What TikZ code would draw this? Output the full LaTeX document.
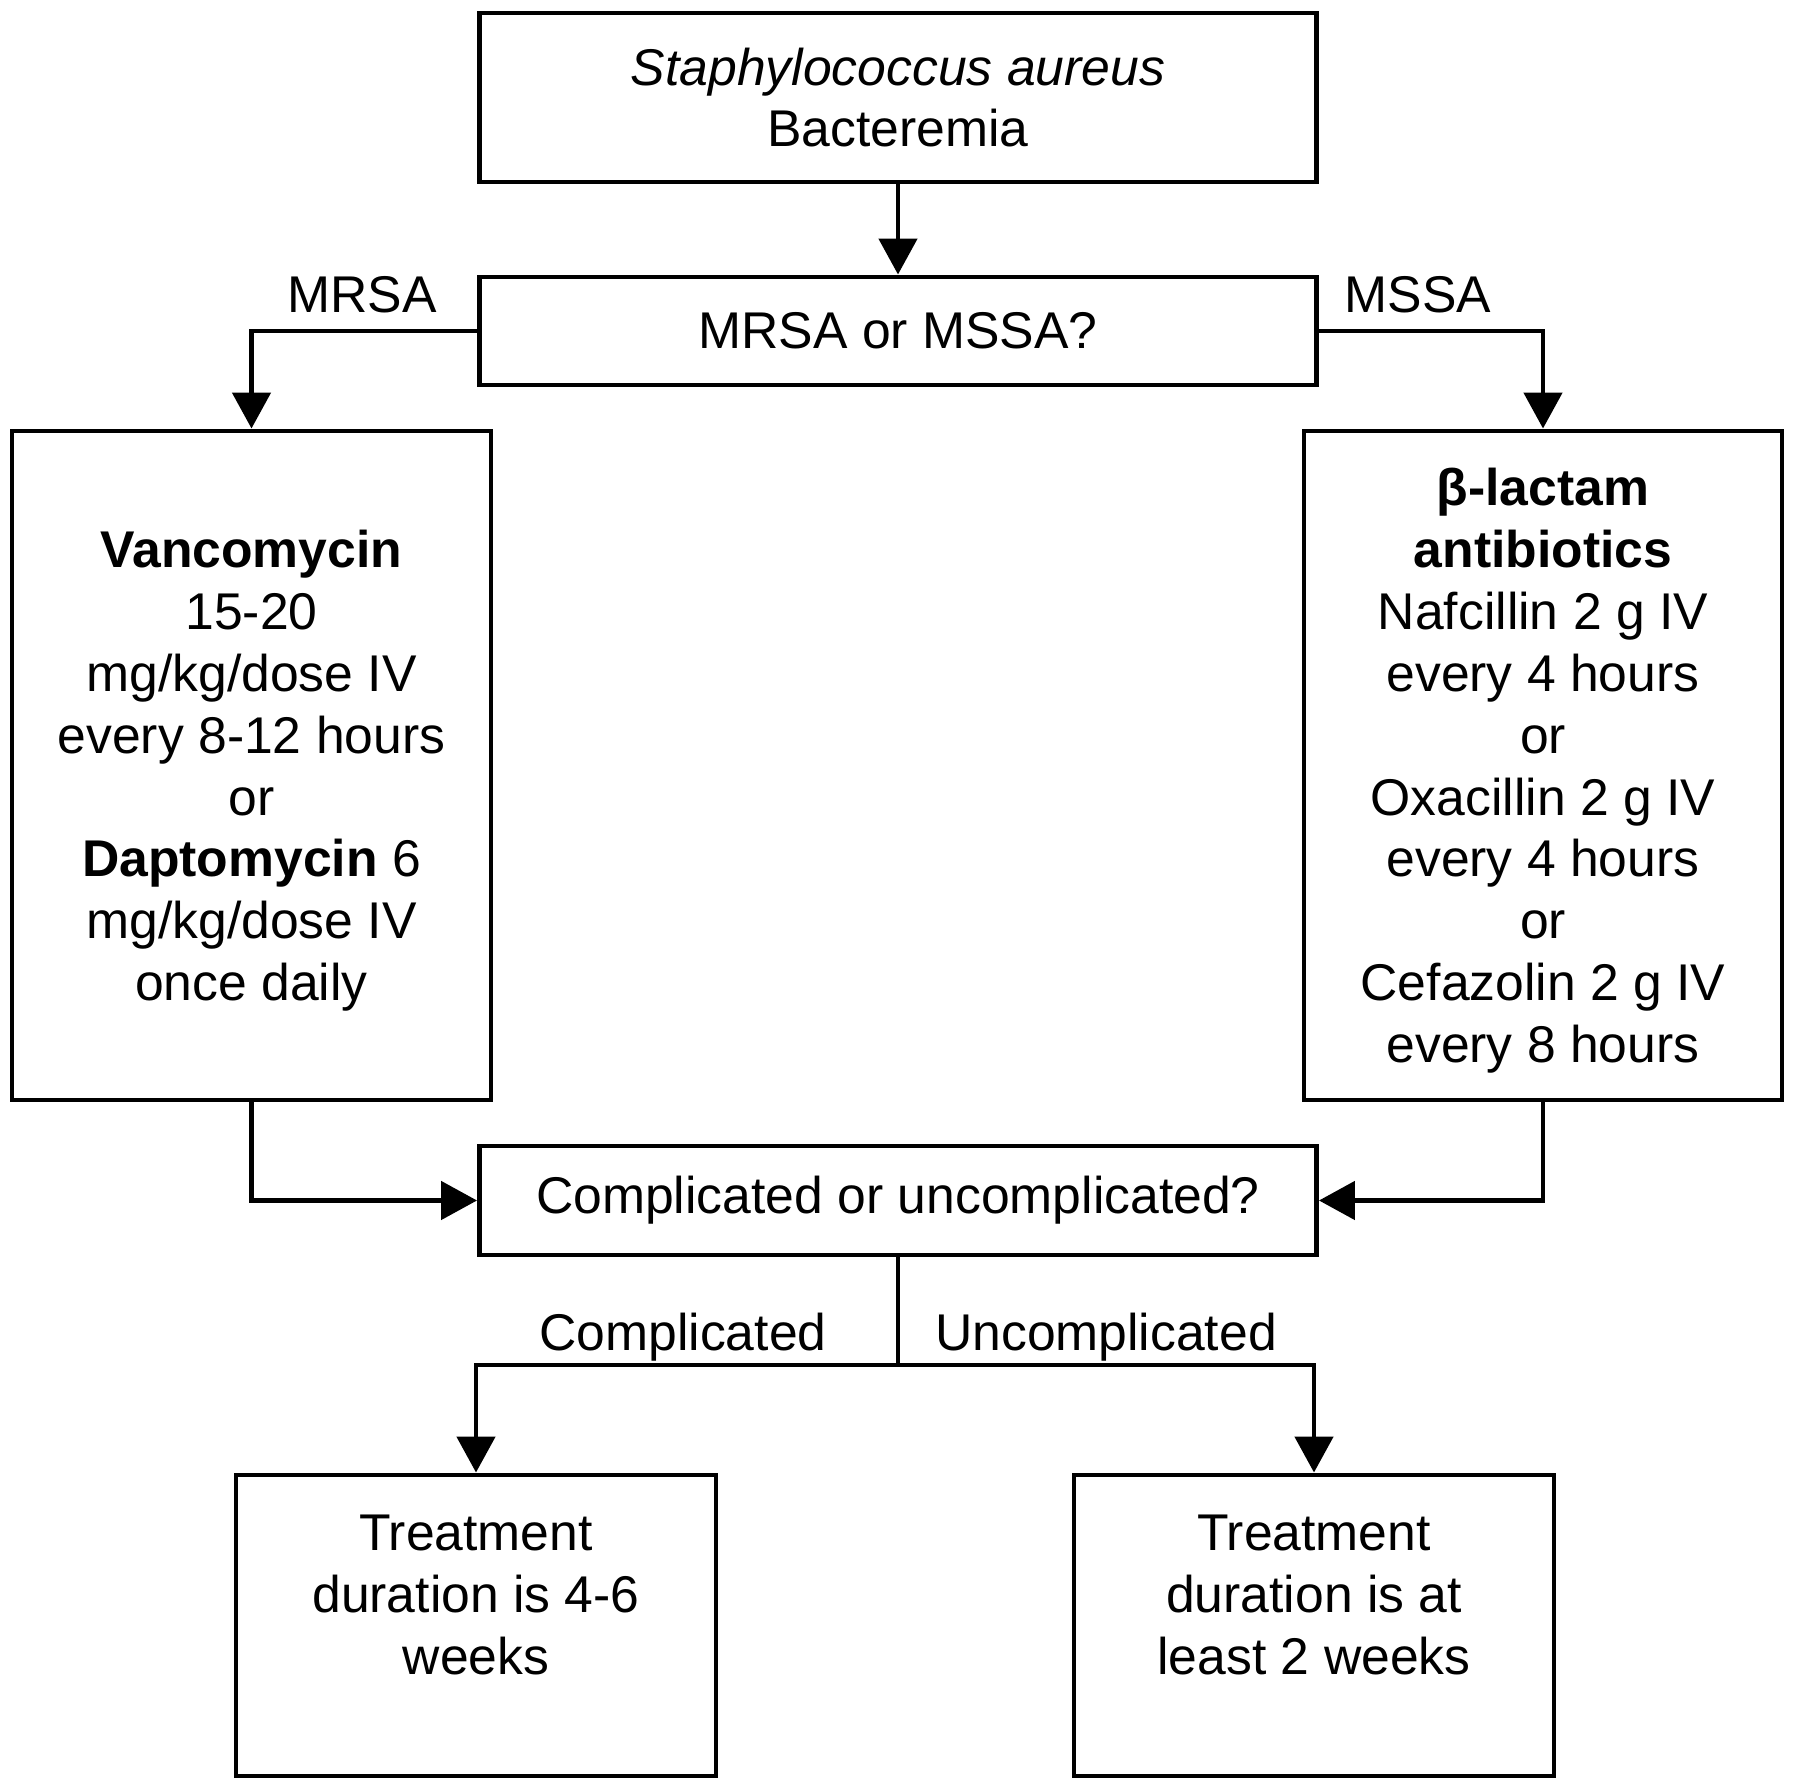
\documentclass[tikz,border=0pt]{standalone}
\usepackage{fontspec}
\setmainfont{Liberation Sans}
\usetikzlibrary{arrows.meta}

\tikzset{
  box/.style={draw, line width=1.4pt, align=center, inner sep=0pt,
              font=\fontsize{14.7}{17.6}\selectfont},
  arr/.style={line width=1.4pt, -{Triangle[width=0.38cm,length=0.36cm]}},
  lbl/.style={font=\fontsize{14.7}{17.6}\selectfont, inner sep=0pt}
}

\begin{document}
\begin{tikzpicture}
                    \useasboundingbox (0,0) rectangle (18,-17.85);
                    \node[box, minimum width=8.37cm, minimum height=1.69cm] (sab) at (8.98,-0.975) {\textit{Staphylococcus aureus}\\Bacteremia};
                    \node[box, minimum width=8.37cm, minimum height=1.08cm] (resist) at (8.98,-3.31) {MRSA or MSSA?};
                    \draw[arr] (sab) -- (resist);
                    \node[box, minimum width=4.79cm, minimum height=6.69cm, text depth=0cm] (mrsa) at (2.515,-7.655) {\textbf{Vancomycin}\\15-20\\mg/kg/dose IV\\every 8-12 hours\\or\\\textbf{Daptomycin} 6\\mg/kg/dose IV\\once daily};
                    \node[box, minimum width=4.78cm, minimum height=6.69cm, text depth=0cm] (mssa) at (15.43,-7.655) {\textbf{β-lactam}\\\textbf{antibiotics}\\Nafcillin 2 g IV\\every 4 hours\\or\\Oxacillin 2 g IV\\every 4 hours\\or\\Cefazolin 2 g IV\\every 8 hours};
                    \draw[arr] (resist.west) -| (mrsa.north);
                    \draw[arr] (resist.east) -| (mssa.north);
                    \node[lbl] (lmrsa) at (3.62,-2.95) {MRSA};
                    \node[lbl] (lmssa) at (14.18,-2.95) {MSSA};
                    \node[box, minimum width=8.37cm, minimum height=1.09cm] (compl) at (8.98,-12.005) {Complicated or uncomplicated?};
                    \draw[arr] (mrsa.south) |- (compl.west);
                    \draw[arr] (mssa.south) |- (compl.east);
                    \coordinate (split) at (8.98,-13.65);
                    \node[box, minimum width=4.8cm, minimum height=3.01cm, text depth=0.62cm] (longtx) at (4.76,-16.255) {Treatment\\duration is 4-6\\weeks};
                    \node[box, minimum width=4.8cm, minimum height=3.01cm, text depth=0.62cm] (shorttx) at (13.14,-16.255) {Treatment\\duration is at\\least 2 weeks};
                    \draw[line width=1.4pt] (compl.south) -- (split);
                    \draw[arr] (split) -| (longtx.north);
                    \draw[arr] (split) -| (shorttx.north);
                    \node[lbl] (lcompl) at (6.83,-13.37) {Complicated};
                    \node[lbl] (luncompl) at (11.06,-13.37) {Uncomplicated};
                \end{tikzpicture}
\end{document}
